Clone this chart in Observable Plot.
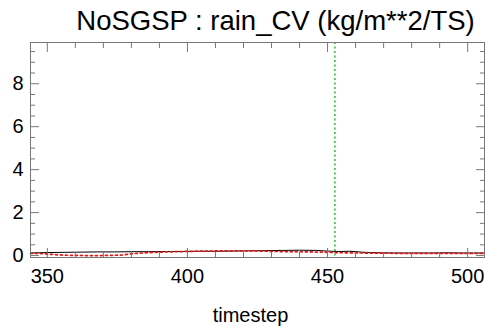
<!DOCTYPE html>
<html><head><meta charset="utf-8">
<script src="https://cdn.jsdelivr.net/npm/d3@7"></script>
<script src="https://cdn.jsdelivr.net/npm/@observablehq/plot@0.6"></script>
<style>body{margin:0;background:#fff} svg{display:block}</style>
</head><body><div id="chart"></div>
<script>
const title = "NoSGSP : rain_CV (kg/m**2/TS)";
const xLabel = "timestep";
const xMajorTicks = [350, 400, 450, 500];
const xMinorTicks = [360, 370, 380, 390, 410, 420, 430, 440, 460, 470, 480, 490];
const yMajorTicks = [0, 2, 4, 6, 8];
const yMinorTicks = [0.5, 1, 1.5, 2.5, 3, 3.5, 4.5, 5, 5.5, 6.5, 7, 7.5, 8.5, 9, 9.5];
const markerTimestep = [452.6];

const blackT = [344, 350, 356, 362, 368, 374, 380, 386, 392, 398, 404, 410, 416, 422, 428, 434, 440, 446, 450, 454, 458, 462, 468, 474, 480, 486, 492, 498, 506];
const blackV = [0.12, 0.14, 0.15, 0.16, 0.17, 0.17, 0.18, 0.18, 0.19, 0.19, 0.2, 0.2, 0.21, 0.22, 0.23, 0.24, 0.25, 0.24, 0.21, 0.19, 0.2, 0.16, 0.13, 0.12, 0.12, 0.12, 0.13, 0.12, 0.12];

const redT = [344, 348, 352, 356, 360, 364, 368, 372, 376, 380, 384, 390, 396, 402, 408, 414, 420, 426, 432, 438, 444, 450, 456, 462, 470, 480, 490, 500, 506];
const redV = [0.1, 0.09, 0.05, 0.02, 0.01, 0.0, 0.0, 0.01, 0.02, 0.08, 0.12, 0.16, 0.18, 0.2, 0.21, 0.22, 0.22, 0.21, 0.19, 0.18, 0.17, 0.15, 0.13, 0.12, 0.11, 0.1, 0.1, 0.1, 0.1];

const black = blackT.map((t, i) => ({t, v: blackV[i]}));
const red = redT.map((t, i) => ({t, v: redV[i]}));

const frameColor = "#777";
const plot = Plot.plot({
  width: 485, height: 327,
  marginLeft: 30, marginRight: 1, marginTop: 42, marginBottom: 70,
  style: {fontFamily: "'Liberation Sans', Arial, Helvetica, sans-serif", background: "#fff", color: "#000"},
  x: {domain: [344, 506]},
  y: {domain: [-0.09, 9.92]},
  marks: [
    Plot.ruleX(markerTimestep, {stroke: "#4cc24c", strokeWidth: 1.8, strokeDasharray: "2,2.5"}),
    Plot.line(black, {x: "t", y: "v", stroke: "#000", strokeWidth: 1, curve: "monotone-x"}),
    Plot.line(red, {x: "t", y: "v", stroke: "#e01818", strokeWidth: 1.7, strokeDasharray: "2,3", curve: "monotone-x"}),
    Plot.frame({stroke: frameColor}),
    // tick marks inside the frame on all four sides
    Plot.axisX(xMajorTicks, {anchor: "bottom", tickSize: -9, fill: "none", stroke: frameColor, label: null}),
    Plot.axisX(xMinorTicks, {anchor: "bottom", tickSize: -5, fill: "none", stroke: frameColor, label: null}),
    Plot.axisX(xMajorTicks, {anchor: "top", tickSize: -9, fill: "none", stroke: frameColor, label: null}),
    Plot.axisX(xMinorTicks, {anchor: "top", tickSize: -5, fill: "none", stroke: frameColor, label: null}),
    Plot.axisY(yMajorTicks, {anchor: "left", tickSize: -9, fill: "none", stroke: frameColor, label: null}),
    Plot.axisY(yMinorTicks, {anchor: "left", tickSize: -5, fill: "none", stroke: frameColor, label: null}),
    Plot.axisY(yMajorTicks, {anchor: "right", tickSize: -9, fill: "none", stroke: frameColor, label: null}),
    Plot.axisY(yMinorTicks, {anchor: "right", tickSize: -5, fill: "none", stroke: frameColor, label: null}),
    // tick labels
    Plot.axisX(xMajorTicks, {anchor: "bottom", tickSize: 0, tickPadding: 11, fontSize: 20, label: null}),
    Plot.axisY(yMajorTicks, {anchor: "left", tickSize: 0, tickPadding: 7, fontSize: 20, label: null}),
    // titles
    Plot.text([xLabel], {frameAnchor: "bottom", dy: 58, dx: -7, fontSize: 20, lineAnchor: "middle"}),
    Plot.text([title], {frameAnchor: "top", dy: -21, dx: 18, fontSize: 27.5, lineAnchor: "middle"})
  ]
});
document.getElementById("chart").append(plot);
</script>
</body></html>
